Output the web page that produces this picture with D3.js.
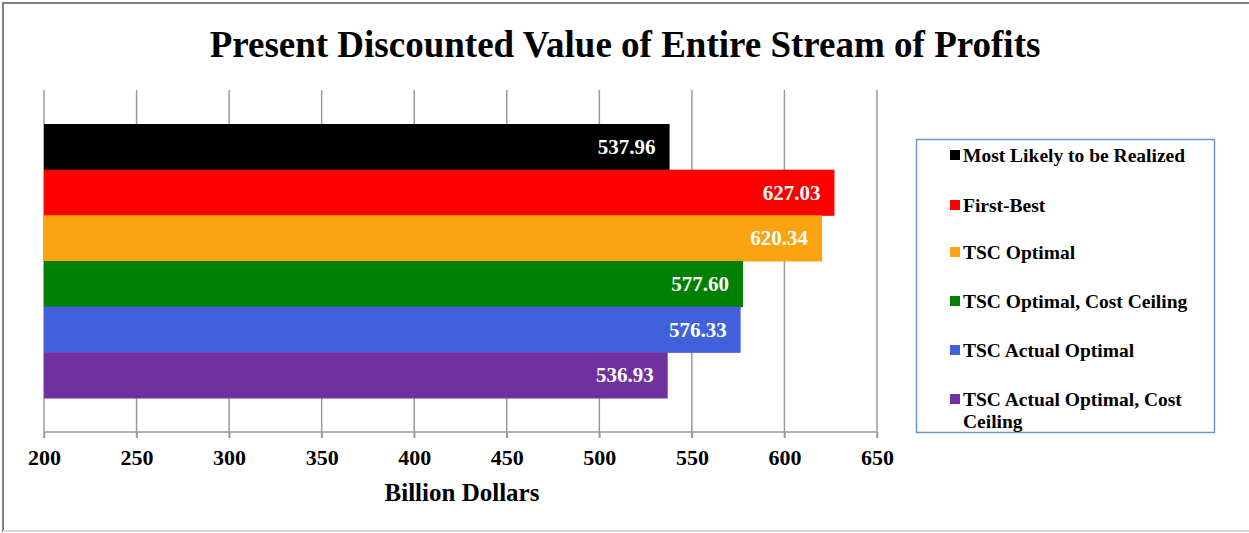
<!DOCTYPE html>
<html><head><meta charset="utf-8">
<script src="https://cdn.jsdelivr.net/npm/d3@7"></script>
<style>body{margin:0;background:#fff}svg{display:block}</style>
</head><body>
<script>
const series = ["Most Likely to be Realized","First-Best","TSC Optimal","TSC Optimal, Cost Ceiling","TSC Actual Optimal","TSC Actual Optimal, Cost Ceiling"];
const values = [537.96, 627.03, 620.34, 577.60, 576.33, 536.93];
const colors = ["#000000","#ff0000","#fca311","#008000","#4060dc","#7030a0"];
const xTicks = [200,250,300,350,400,450,500,550,600,650];
const title = "Present Discounted Value of Entire Stream of Profits";
const xTitle = "Billion Dollars";

(function(){
const W=1249,H=533;
const svg=d3.select("body").append("svg").attr("width",W).attr("height",H);
const font="'Liberation Serif','Times New Roman',serif";
svg.append("rect").attr("x",3).attr("y",3).attr("width",W+10).attr("height",528).attr("fill","#fff").attr("stroke","#808080").attr("stroke-width",2);
svg.append("line").attr("x1",3).attr("x2",W).attr("y1",531).attr("y2",531).attr("stroke","#d8d8d8").attr("stroke-width",2);

svg.append("text").attr("x",625).attr("y",57).attr("text-anchor","middle").attr("font-family",font).attr("font-weight","bold").attr("font-size",37).text(title);

const x=d3.scaleLinear().domain([200,650]).range([44,877]);
const y=d3.scaleBand().domain(series).range([124,398]).padding(0);
const plotTop=90,plotBottom=432;

const g=svg.append("g");
g.selectAll("line.grid").data(xTicks).join("line").attr("class","grid")
 .attr("x1",d=>x(d)).attr("x2",d=>x(d)).attr("y1",plotTop).attr("y2",plotBottom+6)
 .attr("stroke","#9a9a9a").attr("stroke-width",1.5);

g.selectAll("rect.bar").data(series).join("rect").attr("class","bar")
 .attr("x",x(200)).attr("y",d=>y(d)).attr("height",y.bandwidth()+0.5)
 .attr("width",(d,i)=>x(values[i])-x(200)).attr("fill",(d,i)=>colors[i]);

g.selectAll("text.lbl").data(series).join("text").attr("class","lbl")
 .attr("x",(d,i)=>x(values[i])-14).attr("y",d=>y(d)+y.bandwidth()/2+7)
 .attr("text-anchor","end").attr("fill","#fff").attr("font-family",font).attr("font-weight","bold").attr("font-size",21)
 .text((d,i)=>values[i].toFixed(2));

const axis=d3.axisBottom(x).tickValues(xTicks).tickSize(6).tickPadding(10).tickFormat(d3.format("d"));
const ax=svg.append("g").attr("transform",`translate(0,${plotBottom})`).call(axis);
ax.select(".domain").attr("stroke","#9a9a9a").attr("stroke-width",1.5).attr("d",`M${x(200)},0H${x(650)}`);
ax.selectAll(".tick line").attr("stroke","#9a9a9a").attr("stroke-width",1.5);
ax.selectAll(".tick text").attr("font-family",font).attr("font-weight","bold").attr("font-size",22).attr("fill","#000")
  .attr("dy",null).attr("y",33);

svg.append("text").attr("x",462).attr("y",501).attr("text-anchor","middle").attr("font-family",font).attr("font-weight","bold").attr("font-size",25).text(xTitle);

// legend
svg.append("rect").attr("x",916.5).attr("y",139.5).attr("width",298).attr("height",293).attr("fill","#fff").attr("stroke","#6b95cc").attr("stroke-width",1.5);
const ly=[155,205,252,301,350,399];
const lg=svg.append("g");
series.forEach((s,i)=>{
  lg.append("rect").attr("x",950).attr("y",ly[i]-5).attr("width",10).attr("height",10).attr("fill",colors[i]);
  const t=lg.append("text").attr("x",963).attr("y",ly[i]+7).attr("font-family",font).attr("font-weight","bold").attr("font-size",19.5).attr("fill","#000");
  if(i===5){
    t.append("tspan").attr("x",963).text("TSC Actual Optimal, Cost");
    t.append("tspan").attr("x",963).attr("dy",22).text("Ceiling");
  } else t.text(s);
});
})();
</script>
</body></html>
